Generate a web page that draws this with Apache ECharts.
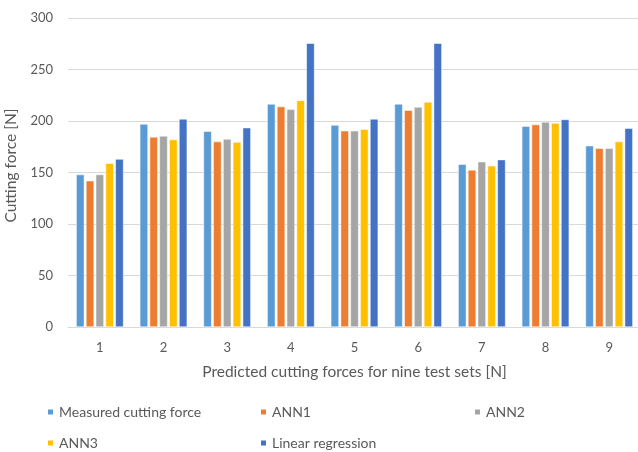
<!DOCTYPE html>
<html>
<head>
<meta charset="utf-8">
<script src="https://cdn.jsdelivr.net/npm/echarts@6/dist/echarts.min.js"></script>
<style>
	html,body{margin:0;padding:0;background:#fff;}
	#main{width:638px;height:452px;}
</style>
</head>
<body>
<div id="main"></div>
<script>
	// 测试组
	var categories = ['1','2','3','4','5','6','7','8','9'];
	var measured = [148, 197, 190, 216.5, 196, 216.5, 158, 195, 176];
	var ann1 = [142, 184.5, 180, 214, 190.5, 210.5, 152.5, 196.5, 173.5];
	var ann2 = [148, 185.5, 182.5, 211.5, 190.5, 213.5, 160.5, 199, 173.5];
	var ann3 = [159, 182, 179.5, 220, 192, 218.5, 156.5, 198, 180];
	var linReg = [163, 202, 193.5, 275.5, 202, 275.5, 162.5, 201.5, 193];
	var yTicks = [0, 50, 100, 150, 200, 250, 300];

	var names = ['Measured cutting force','ANN1','ANN2','ANN3','Linear regression'];
	var colors = ['#5B9BD5','#ED7D31','#A5A5A5','#FFC000','#4472C4'];
	var values = [measured, ann1, ann2, ann3, linReg];
	var font = 'Lato, "Open Sans", sans-serif';

	var myChart = echarts.init(document.getElementById('main'));

	// 图例位置，两行三列
	var legendPos = [[46,404],[259,404],[473,404],[46,435],[259,435]];
	var legends = names.map(function(n, i){
		return {
			left: legendPos[i][0],
			top: legendPos[i][1],
			icon: 'rect',
			itemWidth: 7,
			itemHeight: 7,
			itemGap: 0,
			padding: 0,
			textStyle: {color:'#595959', fontSize:14, lineHeight:16, fontFamily:font},
			data: [n]
		};
	});

	var option = {
		animation: false,
		color: colors,
		textStyle: {fontFamily: font},
		legend: legends,
		grid: {left: 68, right: -3, top: 18, bottom: 125, outerBoundsMode: 'none'},
		xAxis: {
			type: 'category',
			data: categories,
			name: 'Predicted cutting forces for nine test sets [N]',
			nameLocation: 'middle',
			nameGap: 37,
			nameTextStyle: {color:'#595959', fontSize:15.5, fontFamily:font},
			axisLine: {lineStyle:{color:'#D9D9D9'}},
			axisTick: {show:false},
			axisLabel: {color:'#595959', fontSize:13, margin:14, fontFamily:font}
		},
		yAxis: {
			type: 'value',
			min: yTicks[0],
			max: yTicks[yTicks.length-1],
			interval: 50,
			name: 'Cutting force [N]',
			nameLocation: 'middle',
			nameGap: 46,
			nameTextStyle: {color:'#595959', fontSize:15.5, fontFamily:font, padding:[0,0,0,14]},
			axisLine: {show:false},
			axisTick: {show:false},
			axisLabel: {color:'#595959', fontSize:13, margin:15, fontFamily:font},
			splitLine: {lineStyle:{color:'#D9D9D9'}}
		},
		series: names.map(function(n, i){
			return {
				name: n,
				type: 'bar',
				data: values[i],
				barGap: '20%',
				barCategoryGap: '25.6%',
				itemStyle: {color: colors[i], borderColor:'#fff', borderWidth:0.5}
			};
		})
	};
	myChart.setOption(option);
</script>
</body>
</html>
